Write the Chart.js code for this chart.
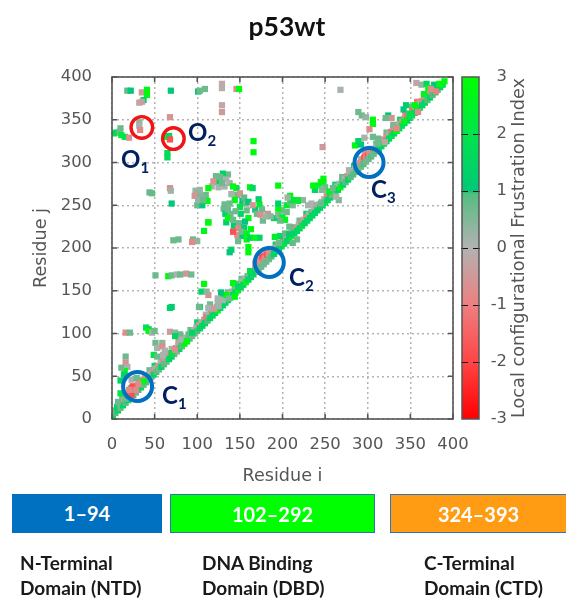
<!DOCTYPE html>
<html><head><meta charset="utf-8">
<script src="https://cdn.jsdelivr.net/npm/chart.js@4"></script>
<style>
html,body{margin:0;padding:0;background:#fff}
#wrap{position:relative;width:566px;height:598px;overflow:hidden}
canvas{position:absolute;left:0;top:0;filter:blur(.45px)}
.t{position:absolute;white-space:nowrap;font-family:Lato,"Open Sans",sans-serif}
#title{left:0;width:574px;top:10px;text-align:center;font-weight:700;font-size:26.5px;color:#111}
.box{top:494px;height:39px;line-height:38px;text-align:center;color:#fff;font-weight:700;font-size:20px;box-sizing:border-box}
.dom{font-weight:700;font-size:19px;line-height:25px;color:#1a1a1a;top:550px}
.mk{color:#002060;font-weight:700;font-size:24px;line-height:24px}
.mk sub{font-size:15px;vertical-align:-5px;line-height:0}
#cbt{left:518px;top:248px;transform:translate(-50%,-50%) rotate(-90deg);font-family:"DejaVu Sans";font-size:17.7px;color:#555;filter:blur(.35px)}
</style></head><body>
<div id="wrap">
<canvas id="c" width="566" height="598"></canvas>
<div class="t" id="title">p53wt</div>
<div class="t box" style="left:12px;width:150px;background:#0070c0">1–94</div>
<div class="t box" style="left:170px;width:205px;background:#00ff00;border:1px solid #2e75b6">102–292</div>
<div class="t box" style="left:390px;width:176px;background:#ff9c14;border:1px solid #2e75b6;border-right:0">324–393</div>
<div class="t dom" style="left:20px">N-Terminal<br>Domain (NTD)</div>
<div class="t dom" style="left:202px">DNA Binding<br>Domain (DBD)</div>
<div class="t dom" style="left:424px">C-Terminal<br>Domain (CTD)</div>
<div class="t mk" style="left:162px;top:383px">C<sub>1</sub></div>
<div class="t mk" style="left:289px;top:265px">C<sub>2</sub></div>
<div class="t mk" style="left:371px;top:177px">C<sub>3</sub></div>
<div class="t mk" style="left:121px;top:147px">O<sub>1</sub></div>
<div class="t mk" style="left:188px;top:120px">O<sub>2</sub></div>
<div class="t" id="cbt">Local configurational Frustration Index</div>
</div>
<script>
const axisTicks=[0,50,100,150,200,250,300,350,400];
const colorbarStops=[[-3,'#ff0000'],[-2,'#ff4545'],[-1,'#ee7f7f'],[0,'#b2b2b2'],[0.95,'#55bd80'],[1,'#00c878'],[2,'#00e44a'],[3,'#00ff00']];
// [residue i, residue j, frustration index]
const diagonalOuter=[[12,24,.7],[22,36,.7],[34,46,.1],[44,57,.7],[50,62,1.5],[58,70,.1],[64,76,.7],[70,82,.1],[78,90,-.7],[83,95,.1],[92,104,.7],[100,113,1.5],[110,122,.1],[116,128,.7],[124,136,.1],[130,142,1.5],[136,148,.7],[146,158,2],[152,164,.7],[168,182,.1],[172,186,-.7],[176,192,.1],[180,195,-.7],[186,199,.1],[192,204,1.5],[200,212,.7],[212,224,1.5],[220,232,.7],[228,240,1.5],[238,250,.7],[252,265,.1],[262,274,1.5],[270,283,.7],[278,291,.1],[284,296,1.5],[292,304,.1],[297,312,-.7],[303,316,.1],[310,322,.7],[322,335,.7],[330,343,-.7],[338,350,1.5],[344,356,-.7],[352,365,.7],[358,371,-1.2],[366,379,.7],[372,385,-.7],[378,390,.1]];
const diagonalInner=[[3,10,.7],[6,14,1.5],[9,18,.7],[12,20,-.7],[15,23,.1],[18,27,-.7],[20,30,-1.8],[23,32,-.7],[24,38,-1.8],[26,35,-.8],[29,38,-.7],[31,40,-1.8],[34,42,-.7],[36,45,-.8],[39,48,-.7],[42,50,-.7],[45,53,.1],[48,56,-.7],[51,59,.1],[54,62,-.7],[57,65,.1],[60,68,-.7],[63,71,.1],[66,74,-.7],[69,77,-1.2],[72,80,.1],[75,83,-.7],[78,86,.1],[81,89,.7],[84,92,.1],[87,95,.1],[90,98,.7],[93,101,.1],[96,104,.1],[99,107,.1],[102,110,-.7],[105,113,.1],[108,116,-.7],[111,119,-1.2],[114,122,.1],[117,125,-.7],[120,128,.1],[123,131,-.7],[126,134,.1],[129,137,.1],[132,140,.7],[135,143,.1],[138,146,.1],[141,149,.1],[144,152,.7],[147,155,.1],[150,158,.7],[153,161,.1],[156,164,.1],[159,167,.7],[162,170,.1],[165,173,.1],[168,176,-.7],[171,179,-.7],[174,182,-.7],[176,190,-1.8],[178,186,-1.2],[180,188,-.7],[182,192,-1.8],[184,192,-.7],[186,194,-.7],[189,197,-.7],[192,200,.1],[195,203,-.7],[198,206,.1],[201,209,-1.2],[204,212,.1],[207,215,-.7],[210,218,.1],[213,221,.7],[216,224,-.7],[219,227,.1],[222,230,-.7],[225,233,.1],[228,236,-.7],[231,239,.1],[234,242,.7],[237,245,.1],[240,248,-.7],[243,251,.1],[246,254,.1],[249,257,.1],[252,260,-.7],[255,263,-1.2],[258,266,-.7],[261,269,.1],[264,272,.1],[267,275,.1],[270,278,.7],[273,281,.1],[276,284,-.7],[279,287,.1],[282,290,.1],[285,293,.1],[288,296,-.7],[291,299,-.7],[294,302,-.7],[296,306,-1.8],[298,306,-.7],[300,308,-1.8],[302,310,-.7],[304,312,-.7],[307,315,-1.2],[310,318,.1],[313,321,.1],[316,324,.1],[319,327,-.7],[322,330,-.7],[325,333,.1],[328,336,-1.2],[331,339,-.7],[334,342,-1.2],[337,345,.1],[340,348,-.7],[343,351,-.7],[346,354,-1.2],[349,357,-.7],[352,360,-1.2],[355,363,-.7],[358,366,-.7],[361,369,.1],[364,372,-.7],[367,375,-.7],[370,378,-1.2],[373,381,-.7],[376,384,-.7],[379,387,-.7],[382,390,.1],[385,391,-.7]];
const diagonalEdge=[[1,4,1.5],[4,7,.9],[7,10,1.5],[10,13,.7],[13,16,1.5],[16,19,.9],[19,22,1.5],[22,25,.9],[25,28,.9],[28,31,.7],[31,34,.9],[34,37,1.5],[37,40,.7],[40,43,.9],[43,46,.9],[46,49,.7],[49,52,1.5],[52,55,.9],[55,58,.7],[58,61,1.5],[61,64,.9],[64,67,.7],[67,70,1.5],[70,73,1.5],[73,76,.9],[76,79,.7],[79,82,1.5],[82,85,.9],[85,88,2.8],[88,91,1.5],[91,94,.9],[94,97,.7],[97,100,.7],[100,103,.9],[103,106,1.5],[106,109,1.5],[109,112,1.5],[112,115,.9],[115,118,1.5],[118,121,1.5],[121,124,1.5],[124,127,2.8],[127,130,1.5],[130,133,1.5],[133,136,1.5],[136,139,1.5],[139,142,2.8],[142,145,1.5],[145,148,1.5],[148,151,2.8],[151,154,1.5],[154,157,1.5],[157,160,2.8],[160,163,1.5],[163,166,1.5],[166,169,.9],[169,172,.7],[172,175,.9],[175,178,.7],[178,181,.7],[181,184,.7],[184,187,.7],[187,190,.9],[190,193,1.5],[193,196,1.5],[196,199,1.5],[199,202,1.5],[202,205,2],[205,208,1.5],[208,211,1.5],[211,214,2.8],[214,217,1.5],[217,220,1.5],[220,223,1.5],[223,226,2],[226,229,1.5],[229,232,1.5],[232,235,1.5],[235,238,1.5],[238,241,1.5],[241,244,1.5],[244,247,1.5],[247,250,1.5],[250,253,2],[253,256,1.5],[256,259,1.5],[259,262,1.5],[262,265,2],[265,268,1.5],[268,271,2.8],[271,274,1.5],[274,277,.9],[277,280,1.5],[280,283,.9],[283,286,.9],[286,289,.9],[289,292,.7],[292,295,.7],[295,298,.9],[298,301,.7],[301,304,.7],[304,307,.9],[307,310,.7],[310,313,.9],[313,316,1.5],[316,319,1.5],[319,322,2],[322,325,1.5],[325,328,1.5],[328,331,2],[331,334,1.5],[334,337,2.8],[337,340,1.5],[340,343,2],[343,346,1.5],[346,349,1.5],[349,352,1.5],[352,355,2],[355,358,1.5],[358,361,1.5],[361,364,2],[364,367,1.5],[367,370,1.5],[370,373,.9],[373,376,1.5],[376,379,.9],[379,382,1.5],[382,385,.9],[385,388,1.5],[388,391,2],[390,395,2.8]];
const ntdContacts=[[16,101,-.7],[21,101,.7],[40,107,2],[43,105,1.5],[43,103,2.8],[47,101,.1],[50,103,.7],[68,102,-.4],[74,101,.4],[80,99,.7],[80,93,.1],[74,97,1.5],[51,89,.7],[59,89,.4],[53,83,.1],[59,85,-.7],[49,75,2],[53,73,.7],[60,75,.1],[70,77,2],[74,81,-.7],[62,80,.1],[88,91,2.8],[90,99,.7],[94,101,1.5],[16,73,.7],[16,66,-.7],[18,61,.1],[15,56,2.8],[14,52,1.5],[11,60,.7],[10,45,1.5],[23,46,.1],[29,48,.7],[37,44,2.8],[25,38,-1.8],[31,41,-.7],[23,28,-1.8],[20,34,-.8],[16,24,.7],[10,30,2],[28,34,-.8],[7,20,.7],[70,131,1.2],[103,131,1.2],[68,130,1.2],[51,168,.7],[66,167,2.8],[70,168,.7],[76,169,.1],[87,170,-.6],[93,169,.7],[80,169,.7]];
const dbdContacts=[[130,287,1.4],[127,283,.7],[119,278,-.6],[134,280,.1],[132,272,.1],[125,271,.1],[129,276,.7],[113,270,2.8],[142,272,2.8],[98,267,.3],[103,268,.3],[97,261,-.6],[105,261,.5],[101,256,.3],[112,255,2.8],[107,256,.7],[162,271,2.8],[165,270,1.5],[195,273,2.8],[150,264,-.6],[155,259,.8],[144,256,2.8],[132,251,.7],[138,252,.7],[160,254,1],[165,250,-.6],[173,251,2.4],[176,245,.7],[174,239,-.7],[180,237,.2],[186,237,.4],[195,246,2.8],[195,252,1.2],[209,261,2.8],[209,254,.7],[218,255,2.4],[214,255,.7],[136,245,.7],[136,235,2.8],[160,235,2.8],[156,231,1],[142,233,.7],[148,223,-.8],[142,219,-1.8],[152,219,.6],[158,217,2.6],[162,212,1.6],[173,212,1.4],[167,212,2.6],[113,230,2.8],[108,220,2.6],[95,210,.7],[100,208,.4],[94,207,-.8],[78,210,.7],[72,209,.7],[140,198,1.4],[138,195,1],[160,195,2.8],[160,201,2.8],[197,214,1.6],[191,213,2.4],[203,217,.8],[208,216,1.2],[212,206,.8],[217,210,.7],[196,206,.7],[108,158,2.8],[105,149,1.5],[113,145,-.7],[111,149,.4],[102,131,.7],[115,134,.7],[113,130,.1],[120,129,-.5],[124,141,.1],[130,139,.1],[142,159,2.8],[148,155,1.5],[134,145,2.8],[144,143,2.8],[125,132,.2],[137,141,.6],[128,148,1],[162,173,2],[165,170,1.5]];
const dbdClusterExtra=[[122,284,.7],[136,286,.7],[124,277,1.5],[138,276,.1],[146,270,2],[117,272,.1],[110,262,.7],[102,262,.7],[100,250,.7],[106,250,1],[140,263,.1],[147,262,.7],[153,255,1],[157,252,.7],[150,248,2],[131,246,.7],[133,240,1.2],[139,240,.7],[134,230,1.2],[143,226,1.2],[149,229,.7],[155,224,1.2],[147,215,-.7],[153,214,1.2],[163,222,2.8],[158,210,2.8],[148,208,.7],[168,245,1],[170,240,.7],[177,232,.7],[183,240,-.7],[190,235,1.5],[195,239,.5],[200,236,2.4],[199,244,.7],[205,242,.7],[172,257,1.2],[158,244,.7],[151,240,1.4],[145,243,.7],[203,233,2.6],[197,232,.7],[208,225,.7],[245,277,2.8],[238,268,1.5],[258,262,.7],[266,256,.5],[224,256,.4],[230,250,.1],[212,250,.5],[205,250,2.4]];
const ctdContacts=[[268,385,.1],[357,393,-.3],[363,391,.3],[369,392,1.5],[378,391,1],[384,392,2.8],[371,387,2.8],[380,383,-1],[345,367,1.3],[342,362,1],[355,367,2.8],[359,359,-.8],[349,357,2],[324,355,1],[328,352,-.6],[321,352,.7],[330,344,.6],[334,340,-.8],[343,348,2.6],[289,359,.7],[293,355,.7],[298,353,.3],[306,350,2.8],[306,345,2.8],[302,339,-.7],[296,329,.1],[306,330,.7],[312,328,.7],[312,322,.7],[320,324,-.3],[285,320,2.8],[292,321,1],[289,325,1.5],[247,318,-.5],[248,281,2.8],[248,276,2.8],[236,273,2.8],[242,273,2.6],[250,271,.7],[255,266,2.6],[259,270,.7],[263,260,.1],[246,268,.5],[217,256,2.4],[211,256,2.2],[206,259,.2],[234,252,.1],[245,252,.7],[366,380,2.6],[374,386,-.7]];
const longRangeContacts=[[18,384,.8],[22,384,1],[35,382,-.5],[41,385,2.8],[41,379,2.8],[37,373,1.3],[35,371,-.4],[32,370,-.3],[69,384,1],[101,383,1],[103,384,.7],[109,386,.7],[129,392,-.2],[129,387,-.1],[146,386,-.7],[149,386,2.8],[129,367,-.2],[129,359,-.5],[68,353,-.6],[32,347,.4],[32,343,.1],[33,338,-.8],[2,334,2.8],[5,335,1.5],[10,340,.7],[9,336,.7],[11,332,2.2],[15,330,2],[20,329,-.6],[63,330,2.6],[67,331,1.5],[68,327,-1.8],[65,311,1.7],[65,306,1.7],[166,325,2.8],[166,312,2.8],[44,265,.8],[47,264,.8],[68,270,-.7],[69,267,.2],[70,252,1],[113,230,2.8]];
const contacts=[...diagonalOuter,...diagonalInner,...diagonalEdge,...longRangeContacts,...ntdContacts,...dbdClusterExtra,...dbdContacts,...ctdContacts];
const blueRingI=[30,184.5,301.5], blueRingJ=[38,183,300];
const redRingI=[35,72], redRingJ=[341,328];

const parse=h=>[1,3,5].map(k=>parseInt(h.slice(k,k+2),16));
function colorFor(v){
  for(let k=1;k<colorbarStops.length;k++){
    const [a,ca]=colorbarStops[k-1],[b,cb]=colorbarStops[k];
    if(v<=b){const t=(v-a)/(b-a),A=parse(ca),B=parse(cb);
      return 'rgb('+A.map((x,n)=>Math.round(x+(B[n]-x)*t)).join(',')+')';}
  }
  return colorbarStops[colorbarStops.length-1][1];
}
const ink='#555', tickFont={family:'"DejaVu Sans"',size:16.4};
const BAR={left:462,right:479};
const framePlugin={id:'frame',
  beforeDatasetsDraw(ch){
    const {ctx,scales:{y2}}=ch, t=y2.getPixelForValue(3), b=y2.getPixelForValue(-3);
    const g=ctx.createLinearGradient(0,b,0,t);
    colorbarStops.forEach(([v,c])=>g.addColorStop((v+3)/6,c));
    ctx.save();ctx.fillStyle=g;ctx.fillRect(BAR.left,t,BAR.right-BAR.left,b-t);
    ctx.strokeStyle='#111';ctx.lineWidth=1;ctx.setLineDash([]);
    [-2,-1,0,1,2].forEach(v=>{const y=Math.round(y2.getPixelForValue(v))+.5;
      [[BAR.left-1,BAR.left+6],[BAR.right-6,BAR.right+1]].forEach(([p,q])=>{ctx.beginPath();ctx.moveTo(p,y);ctx.lineTo(q,y);ctx.stroke();});});
    ctx.strokeStyle=ink;ctx.lineWidth=1.5;ctx.strokeRect(BAR.left,t,BAR.right-BAR.left,b-t);
    ctx.restore();
  },
  afterDatasetsDraw(ch){
    const {ctx,chartArea:a,scales:{x,y}}=ch, L=5;
    ctx.save();ctx.strokeStyle=ink;ctx.lineWidth=1.6;ctx.setLineDash([]);
    ctx.strokeRect(a.left,a.top,a.right-a.left,a.bottom-a.top);
    ctx.beginPath();
    axisTicks.forEach(v=>{const p=x.getPixelForValue(v),q=y.getPixelForValue(v);
      ctx.moveTo(p,a.bottom);ctx.lineTo(p,a.bottom-L);ctx.moveTo(p,a.top);ctx.lineTo(p,a.top+L);
      ctx.moveTo(a.left,q);ctx.lineTo(a.left+L,q);ctx.moveTo(a.right,q);ctx.lineTo(a.right-L,q);});
    ctx.stroke();ctx.restore();
  }};
const gridOpts={color:'#b4b4b4',lineWidth:1.5,drawTicks:false,tickBorderDash:[]};
new Chart(document.getElementById('c'),{
  type:'scatter',
  data:{datasets:[
    {label:'Contacts',data:contacts.map(r=>({x:r[0],y:r[1]})),pointStyle:'rect',pointRadius:4.4,pointHoverRadius:4.4,borderWidth:0,pointBorderWidth:0,
     pointBackgroundColor:contacts.map(r=>colorFor(r[2])),order:2},
    {label:'Blue rings',data:blueRingI.map((v,k)=>({x:v,y:blueRingJ[k]})),pointStyle:'circle',pointRadius:14.5,pointBorderWidth:4,pointBorderColor:'#0070c0',pointBackgroundColor:'rgba(0,0,0,0)',clip:false,order:1},
    {label:'Red rings',data:redRingI.map((v,k)=>({x:v,y:redRingJ[k]})),pointStyle:'circle',pointRadius:10.8,pointBorderWidth:3.4,pointBorderColor:'#f01414',pointBackgroundColor:'rgba(0,0,0,0)',clip:false,order:1}
  ]},
  options:{
    responsive:false,animation:false,events:[],
    layout:{padding:{top:77,right:59,left:0,bottom:0}},
    plugins:{legend:{display:false},tooltip:{enabled:false}},
    scales:{
      x:{type:'linear',min:0,max:400,afterFit:s=>{s.height=179},
        afterBuildTicks:s=>{s.ticks=axisTicks.map(v=>({value:v}))},
        border:{display:false,dash:[2,3]},grid:gridOpts,
        ticks:{color:ink,font:tickFont,padding:16,maxRotation:0,autoSkip:false},
        title:{display:true,text:'Residue i',color:ink,font:{family:'"DejaVu Sans"',size:17.6},padding:{top:0,bottom:111}}},
      y:{type:'linear',min:0,max:400,afterFit:s=>{s.width=112},
        afterBuildTicks:s=>{s.ticks=axisTicks.map(v=>({value:v}))},
        border:{display:false,dash:[2,3]},grid:gridOpts,
        ticks:{color:ink,font:tickFont,padding:20,autoSkip:false},
        title:{display:true,text:'Residue j',color:ink,font:{family:'"DejaVu Sans"',size:17.6},padding:{top:31,bottom:0}}},
      y2:{type:'linear',position:'right',min:-3,max:3,afterFit:s=>{s.width=54},
        border:{display:false},grid:{display:false,drawTicks:false},
        ticks:{stepSize:1,color:ink,font:tickFont,padding:39,crossAlign:'far',autoSkip:false}}
    }
  },
  plugins:[framePlugin]
});
</script>
</body></html>
